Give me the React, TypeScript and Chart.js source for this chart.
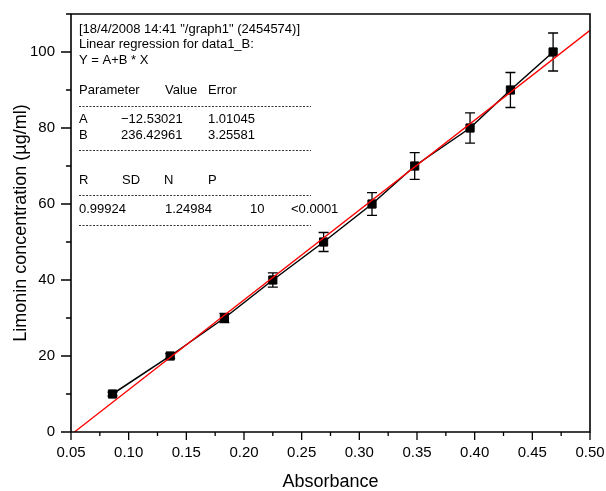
import React, { useEffect, useRef } from "react";
import { Chart, registerables } from "chart.js";

Chart.register(...registerables);

// ---- data ----
const absorbance = [0.086, 0.136, 0.183, 0.225, 0.269, 0.311, 0.348, 0.396, 0.431, 0.468];
const concentration = [10, 20, 30, 40, 50, 60, 70, 80, 90, 100];
const errorBars = [0.5, 0.6, 1.2, 1.9, 2.5, 3.0, 3.5, 4.0, 4.6, 5.0];
const fitX = [0.053, 0.5];
const fitY = [0, 105.7];

const xMin = 0.05;
const xMax = 0.5;
const xStep = 0.025;
const yMin = 0;
const yMax = 110;
const yStep = 10;

const xTitle = "Absorbance";
const yTitle = "Limonin concentration (\u00b5g/ml)";

const boxHeader = [
  '[18/4/2008 14:41 "/graph1" (2454574)]',
  "Linear regression for data1_B:",
  "Y = A+B * X",
];
const paramHeader = ["Parameter", "Value", "Error"];
const paramNames = ["A", "B"];
const paramValues = ["\u221212.53021", "236.42961"];
const paramErrors = ["1.01045", "3.25581"];
const statHeader = ["R", "SD", "N", "P"];
const statValues = ["0.99924", "1.24984", "10", "<0.0001"];

const FONT = "'Liberation Sans', Arial, Helvetica, sans-serif";

const isMajorX = (v: number) => Math.abs(Math.round(v * 1000) % 50) === 0;
const isMajorY = (v: number) => Math.round(v) % 20 === 0;

const framePlugin = {
  id: "frame",
  afterDatasetDraw(chart: any, args: any) {
    if (args.index !== 0) return;
    const ctx = chart.ctx;
    const xs = chart.scales.x;
    const ys = chart.scales.y;
    ctx.save();
    ctx.strokeStyle = "#000";
    ctx.lineWidth = 1.3;
    for (let i = 0; i < absorbance.length; i++) {
      const px = xs.getPixelForValue(absorbance[i]);
      const pTop = ys.getPixelForValue(concentration[i] + errorBars[i]);
      const pBot = ys.getPixelForValue(concentration[i] - errorBars[i]);
      ctx.beginPath();
      ctx.moveTo(px, pTop);
      ctx.lineTo(px, pBot);
      ctx.moveTo(px - 5, pTop);
      ctx.lineTo(px + 5, pTop);
      ctx.moveTo(px - 5, pBot);
      ctx.lineTo(px + 5, pBot);
      ctx.stroke();
    }
    ctx.restore();
  },
  afterDraw(chart: any) {
    const ctx = chart.ctx;
    const { left, right, top, bottom } = chart.chartArea;
    const xs = chart.scales.x;
    const ys = chart.scales.y;
    ctx.save();
    ctx.strokeStyle = "#000";
    ctx.lineWidth = 1.6;
    ctx.beginPath();
    ctx.rect(left, top, right - left, bottom - top);
    ctx.stroke();
    ctx.lineWidth = 1.3;
    ctx.beginPath();
    xs.ticks.forEach((t: any) => {
      const px = xs.getPixelForValue(t.value);
      const len = isMajorX(t.value) ? 8 : 4;
      ctx.moveTo(px, bottom);
      ctx.lineTo(px, bottom + len);
    });
    ys.ticks.forEach((t: any) => {
      const py = ys.getPixelForValue(t.value);
      const len = isMajorY(t.value) ? 10 : 5;
      ctx.moveTo(left, py);
      ctx.lineTo(left - len, py);
    });
    ctx.stroke();

    // regression text box
    ctx.fillStyle = "#000";
    ctx.font = `13px ${FONT}`;
    ctx.textBaseline = "alphabetic";
    ctx.textAlign = "left";
    const c1 = left + 8;
    ctx.fillText(boxHeader[0], c1, top + 19);
    ctx.fillText(boxHeader[1], c1, top + 34);
    ctx.fillText(boxHeader[2], c1, top + 50);
    ctx.fillText(paramHeader[0], c1, top + 80);
    ctx.fillText(paramHeader[1], left + 94, top + 80);
    ctx.fillText(paramHeader[2], left + 137, top + 80);
    for (let i = 0; i < paramNames.length; i++) {
      const yy = top + 109 + i * 16;
      ctx.fillText(paramNames[i], c1, yy);
      ctx.fillText(paramValues[i], left + 50, yy);
      ctx.fillText(paramErrors[i], left + 137, yy);
    }
    const sx = [c1, left + 51, left + 93, left + 137];
    statHeader.forEach((s, i) => ctx.fillText(s, sx[i], top + 170));
    const vx = [c1, left + 94, left + 179, left + 220];
    statValues.forEach((s, i) => ctx.fillText(s, vx[i], top + 199));

    ctx.strokeStyle = "#333";
    ctx.lineWidth = 1;
    ctx.setLineDash([2, 1.5]);
    [92, 136, 181, 211].forEach((dy) => {
      ctx.beginPath();
      ctx.moveTo(c1, top + dy + 0.5);
      ctx.lineTo(left + 240, top + dy + 0.5);
      ctx.stroke();
    });
    ctx.restore();
  },
};

export default function App() {
  const ref = useRef<HTMLCanvasElement | null>(null);
  useEffect(() => {
    if (!ref.current) return;
    const chart = new Chart(ref.current, {
      type: "scatter",
      data: {
        datasets: [
          {
            label: "data",
            data: absorbance.map((x, i) => ({ x, y: concentration[i] })),
            showLine: true,
            borderColor: "#000",
            borderWidth: 1.5,
            backgroundColor: "#000",
            pointStyle: "rect",
            pointRadius: 5.8,
            pointBorderWidth: 1,
            pointBorderColor: "#000",
            pointBackgroundColor: "#000",
            order: 1,
          },
          {
            label: "fit",
            data: fitX.map((x, i) => ({ x, y: fitY[i] })),
            showLine: true,
            borderColor: "#ff0000",
            borderWidth: 1.3,
            pointRadius: 0,
            order: 0,
          },
        ],
      },
      options: {
        responsive: false,
        animation: false,
        events: [],
        layout: { padding: { top: 14, right: 16, left: 0, bottom: 0 } },
        plugins: {
          legend: { display: false },
          tooltip: { enabled: false },
        },
        scales: {
          x: {
            type: "linear",
            min: xMin,
            max: xMax,
            grid: { display: false, drawTicks: false },
            border: { display: false },
            ticks: {
              stepSize: xStep,
              autoSkip: false,
              maxRotation: 0,
              padding: 12,
              color: "#000",
              font: { family: FONT, size: 15 },
              callback: (v: any) => (isMajorX(Number(v)) ? Number(v).toFixed(2) : ""),
            },
            title: {
              display: true,
              text: xTitle,
              color: "#000",
              font: { family: FONT, size: 18, lineHeight: 1.0 },
              padding: 0,
            },
            afterFit: (s: any) => {
              s.height = 59;
              s.paddingLeft = 0;
              s.paddingRight = 0;
            },
          },
          y: {
            type: "linear",
            min: yMin,
            max: yMax,
            grid: { display: false, drawTicks: false },
            border: { display: false },
            ticks: {
              stepSize: yStep,
              autoSkip: false,
              padding: 16,
              color: "#000",
              font: { family: FONT, size: 15 },
              callback: (v: any) => (isMajorY(Number(v)) ? String(v) : ""),
            },
            title: {
              display: true,
              text: yTitle,
              color: "#000",
              font: { family: FONT, size: 18, lineHeight: 1.0 },
              padding: { top: 12, bottom: 0 },
            },
            afterFit: (s: any) => {
              s.width = 71;
              s.paddingTop = 0;
              s.paddingBottom = 0;
            },
          },
        },
      },
      plugins: [framePlugin],
    });
    return () => chart.destroy();
  }, []);
  return (
    <div style={{ position: "absolute", left: 0, top: 0, width: 606, height: 491, background: "#fff" }}>
      <canvas ref={ref} width={606} height={491} />
    </div>
  );
}
